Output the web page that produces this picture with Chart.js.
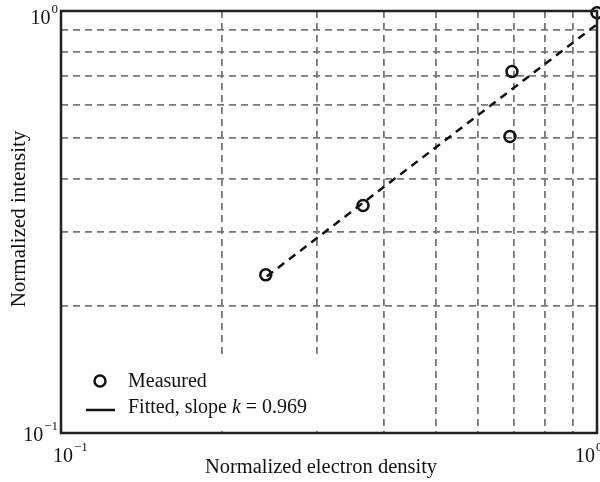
<!DOCTYPE html>
<html>
<head>
<meta charset="utf-8">
<script src="https://cdn.jsdelivr.net/npm/chart.js@4.4.0/dist/chart.umd.min.js"></script>
<style>
  body { margin: 0; background: #fff; }
  #wrap { width: 600px; height: 482px; }
</style>
</head>
<body>
<div id="wrap"><canvas id="chart" width="600" height="482"></canvas></div>
<script>
// values
const densityMeasured = [0.241, 0.366, 0.694, 0.688, 1.0];
const intensityMeasured = [0.237, 0.346, 0.719, 0.504, 0.99];
const densityFit = [0.242, 1.0];
const intensityFit = [0.235, 0.93];
const slopeK = '0.969';

const axisMin = 0.1;
const axisMax = 1;
const gridValues = [0.1, 0.2, 0.3, 0.4, 0.5, 0.6, 0.7, 0.8, 0.9, 1];
const majorTicks = [0.1, 1];
const majorExponents = ['\u22121', '0'];
const xTitle = 'Normalized electron density';
const yTitle = 'Normalized intensity';
const legendNames = ['Measured', 'Fitted, slope '];

const serif = '"Liberation Serif", "Times New Roman", serif';
const gridColor = '#777';

// draws frame, legend, tick labels and titles
const decor = {
    id: 'decor',
    afterDatasetsDraw(chart) {
        const { ctx, chartArea: a, scales: { x, y } } = chart;
        ctx.save();

        // legend box (white, covers grid)
        ctx.fillStyle = '#fff';
        ctx.fillRect(a.left + 2, a.bottom - 75, 268, 73);

        ctx.strokeStyle = '#111';
        ctx.lineWidth = 2.5;
        ctx.beginPath();
        ctx.arc(a.left + 39, a.bottom - 52, 5.5, 0, Math.PI * 2);
        ctx.stroke();
        ctx.beginPath();
        ctx.moveTo(a.left + 25, a.bottom - 23);
        ctx.lineTo(a.left + 54, a.bottom - 23);
        ctx.stroke();

        ctx.fillStyle = '#111';
        ctx.textBaseline = 'alphabetic';
        ctx.textAlign = 'left';
        ctx.font = '20px ' + serif;
        const tx = a.left + 67;
        ctx.fillText(legendNames[0], tx, a.bottom - 46);
        let cx = tx;
        ctx.fillText(legendNames[1], cx, a.bottom - 20);
        cx += ctx.measureText(legendNames[1]).width;
        ctx.font = 'italic 20px ' + serif;
        ctx.fillText('k', cx, a.bottom - 20);
        cx += ctx.measureText('k').width;
        ctx.font = '20px ' + serif;
        ctx.fillText(' = ' + slopeK, cx, a.bottom - 20);

        // frame
        ctx.strokeStyle = '#222';
        ctx.lineWidth = 2.5;
        ctx.strokeRect(a.left, a.top, a.right - a.left, a.bottom - a.top);

        // x tick labels  10^-1, 10^0
        const xDx = [-8, -22];
        majorTicks.forEach((v, i) => {
            const px = x.getPixelForValue(v) + xDx[i];
            ctx.font = '20px ' + serif;
            ctx.fillText('10', px, a.bottom + 29);
            const w = ctx.measureText('10').width;
            ctx.font = '13px ' + serif;
            ctx.fillText(majorExponents[i], px + w + 1, a.bottom + 18);
        });

        // y tick labels, right aligned
        const yDy = [8, 13];
        majorTicks.forEach((v, i) => {
            const py = y.getPixelForValue(v) + yDy[i];
            ctx.font = '13px ' + serif;
            const ew = ctx.measureText(majorExponents[i]).width;
            ctx.font = '20px ' + serif;
            const bw = ctx.measureText('10').width;
            const right = a.left - 3;
            ctx.fillText('10', right - ew - bw - 1, py);
            ctx.font = '13px ' + serif;
            ctx.fillText(majorExponents[i], right - ew, py - 11);
        });

        // axis titles
        ctx.textAlign = 'center';
        ctx.font = '20.5px ' + serif;
        ctx.fillText(xTitle, (a.left + a.right) / 2 - 8, a.bottom + 40);
        ctx.save();
        ctx.translate(25, 219);
        ctx.rotate(-Math.PI / 2);
        ctx.font = '21px ' + serif;
        ctx.fillText(yTitle, 0, 0);
        ctx.restore();

        ctx.restore();
    }
};

const logAxis = {
    type: 'logarithmic',
    min: axisMin,
    max: axisMax,
    afterBuildTicks: (scale) => {
        scale.ticks = gridValues.map(v => ({ value: v }));
    },
    ticks: { display: false },
    grid: { color: gridColor, lineWidth: 1.8, drawTicks: false },
    border: { display: false, dash: [7, 5] }
};

new Chart(document.getElementById('chart'), {
    type: 'scatter',
    data: {
        datasets: [
            {
                label: legendNames[0],
                data: densityMeasured.map((d, i) => ({ x: d, y: intensityMeasured[i] })),
                pointStyle: 'circle',
                pointRadius: 5.5,
                pointBorderWidth: 2.5,
                borderColor: '#111',
                backgroundColor: 'rgba(0,0,0,0)',
                showLine: false,
                clip: false
            },
            {
                label: legendNames[1],
                data: densityFit.map((d, i) => ({ x: d, y: intensityFit[i] })),
                showLine: true,
                pointRadius: 0,
                borderColor: '#111',
                borderWidth: 2.5,
                borderDash: [8, 6]
            }
        ]
    },
    options: {
        responsive: false,
        animation: false,
        layout: { autoPadding: false, padding: { left: 61, right: 3, top: 11, bottom: 49 } },
        plugins: { legend: { display: false }, tooltip: { enabled: false } },
        scales: { x: logAxis, y: logAxis }
    },
    plugins: [decor]
});
</script>
</body>
</html>
